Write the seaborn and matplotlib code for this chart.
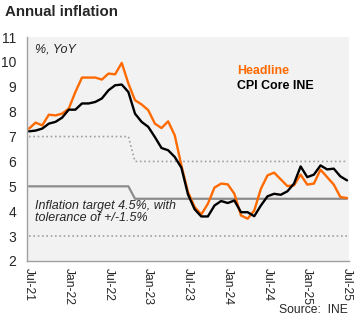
import numpy as np
import pandas as pd
import matplotlib
matplotlib.use("Agg")
import matplotlib.pyplot as plt
import seaborn as sns

months = ["Jul-21","Aug-21","Sep-21","Oct-21","Nov-21","Dec-21","Jan-22","Feb-22","Mar-22","Apr-22",
          "May-22","Jun-22","Jul-22","Aug-22","Sep-22","Oct-22","Nov-22","Dec-22","Jan-23","Feb-23",
          "Mar-23","Apr-23","May-23","Jun-23","Jul-23","Aug-23","Sep-23","Oct-23","Nov-23","Dec-23",
          "Jan-24","Feb-24","Mar-24","Apr-24","May-24","Jun-24","Jul-24","Aug-24","Sep-24","Oct-24",
          "Nov-24","Dec-24","Jan-25","Feb-25","Mar-25","Apr-25","May-25","Jun-25","Jul-25"]

headline = [7.32, 7.56, 7.45, 7.88, 7.85, 7.92, 8.12, 8.79, 9.37, 9.37,
            9.37, 9.29, 9.53, 9.50, 9.96, 9.13, 8.46, 8.29, 8.06, 7.52,
            7.34, 7.61, 7.05, 5.84, 4.77, 4.17, 3.87, 4.30, 4.95, 5.11,
            5.08, 4.70, 3.83, 3.70, 4.03, 4.90, 5.44, 5.55, 5.28, 5.01,
            5.04, 5.47, 5.07, 5.11, 5.67, 5.37, 5.07, 4.57, 4.53]

core = [7.21, 7.24, 7.32, 7.52, 7.59, 7.76, 8.08, 8.08, 8.33, 8.33,
        8.39, 8.53, 8.86, 9.06, 9.09, 8.79, 7.92, 7.59, 7.39, 6.98,
        6.54, 6.45, 6.18, 5.75, 4.67, 4.08, 3.79, 3.79, 4.23, 4.41,
        4.33, 4.43, 3.96, 3.96, 3.80, 4.23, 4.60, 4.70, 4.66, 4.80,
        5.11, 5.80, 5.37, 5.47, 5.84, 5.68, 5.71, 5.40, 5.24]

target_center = [5.0]*16 + [4.5]*33
target_upper = [7.0]*16 + [6.0]*33
target_lower = [3.0]*49

tick_labels = ["Jul-21","Jan-22","Jul-22","Jan-23","Jul-23","Jan-24","Jul-24","Jan-25","Jul-25"]

idx = np.arange(len(months))
df = pd.DataFrame({"m": idx, "Headline": headline, "Core": core,
                   "tc": target_center, "tu": target_upper, "tl": target_lower})

sns.set_style("white")
plt.rcParams["font.family"] = ["Liberation Sans", "DejaVu Sans"]

fig = plt.figure(figsize=(3.61, 3.21), dpi=100)
ax = fig.add_axes([27/361, 1-261/321, (349-27)/361, (261-37)/321])
ax.set_facecolor("#f2f2f2")

dot = "#a0a0a0"
sns.lineplot(data=df, x="m", y="tu", ax=ax, color=dot, lw=1.2, linestyle=(0, (1, 1.6)))
sns.lineplot(data=df, x="m", y="tl", ax=ax, color=dot, lw=1.2, linestyle=(0, (1, 1.6)))
sns.lineplot(data=df, x="m", y="tc", ax=ax, color="#8c8c8c", lw=1.6)
sns.lineplot(data=df, x="m", y="Headline", ax=ax, color="#ff6a00", lw=1.7)
sns.lineplot(data=df, x="m", y="Core", ax=ax, color="black", lw=1.7)

ax.set_xlim(-0.3, 48.3)
ax.set_ylim(2, 11)
ax.set_xlabel("")
ax.set_ylabel("")
ax.set_xticks(idx[::6])
ax.set_xticklabels(tick_labels, rotation=270, fontsize=8.7)
ax.set_yticks(range(2, 12))
ax.set_yticklabels([str(v) for v in range(2, 12)], fontsize=10)
ax.tick_params(axis="x", length=0, pad=5)
ax.tick_params(axis="y", length=0, pad=8)
for s in ["top", "right"]:
    ax.spines[s].set_visible(False)
for s in ["left", "bottom"]:
    ax.spines[s].set_color("#a0a0a0")
    ax.spines[s].set_linewidth(1.0)

ax.text(0.025, 0.942, "%, YoY", transform=ax.transAxes, fontsize=9, style="italic",
        va="center", ha="left")
ax.text(0.652, 0.848, "Headline", transform=ax.transAxes, fontsize=8.9, fontweight="bold",
        color="#ff6a00", va="center", ha="left")
ax.text(0.652, 0.781, "CPI Core INE", transform=ax.transAxes, fontsize=8.9, fontweight="bold",
        color="black", va="center", ha="left")
ax.text(0.025, 0.219, "Inflation target 4.5%, with\ntolerance of +/-1.5%",
        transform=ax.transAxes, fontsize=9, style="italic", va="center", ha="left",
        linespacing=1.05)

fig.text(5/361, 1-16/321, "Annual inflation", fontsize=10.8, fontweight="bold",
         va="baseline", ha="left")
fig.text(348/361, 1-313/321, "Source:  INE", fontsize=8.7, va="baseline", ha="right")

fig.savefig("out.png", dpi=100, facecolor="white")
